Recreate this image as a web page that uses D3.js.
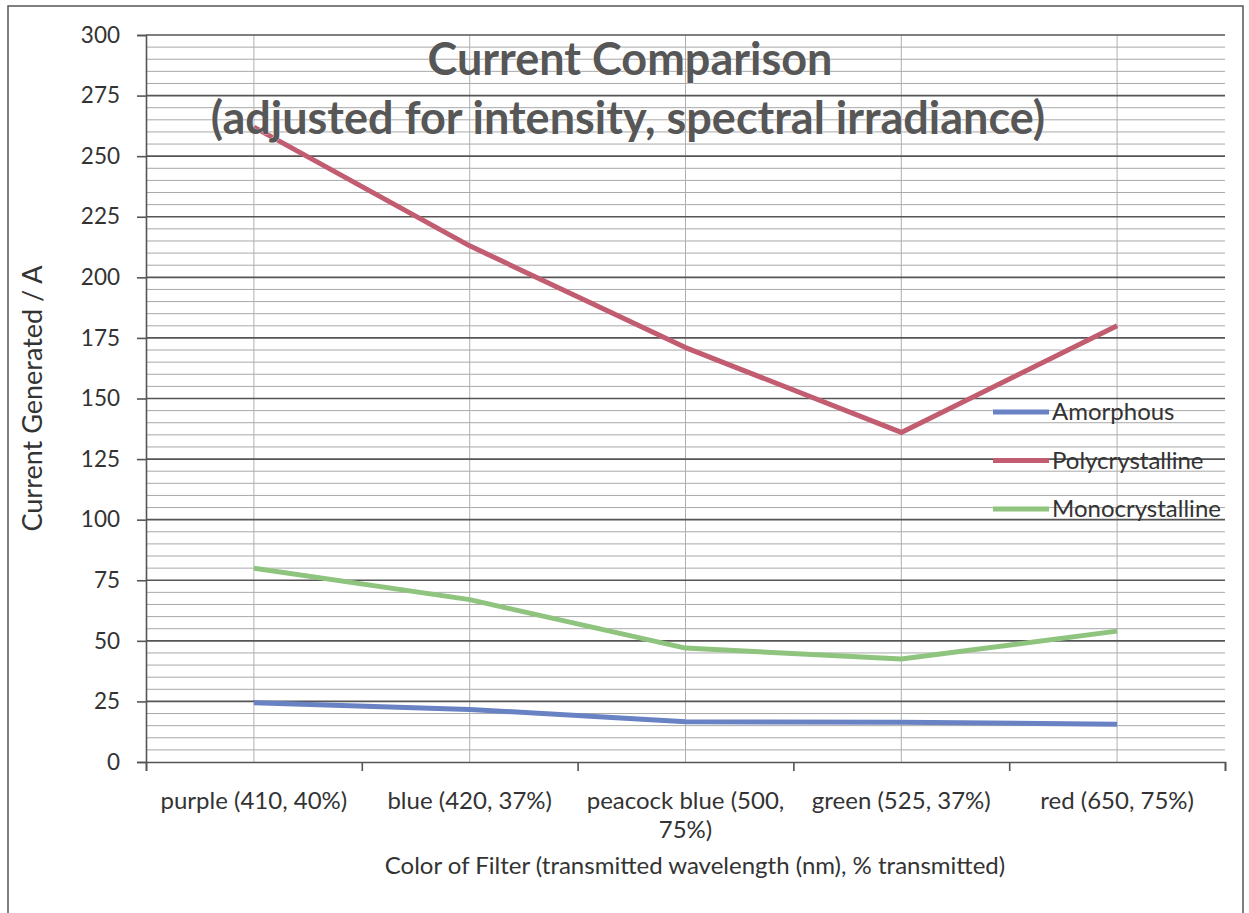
<!DOCTYPE html>
<html>
<head>
<meta charset="utf-8">
<script src="https://cdn.jsdelivr.net/npm/d3@7"></script>
<style>
  body { margin: 0; background: #fff; }
  svg { display: block; font-family: Lato, "Open Sans", sans-serif; }
</style>
</head>
<body>
<script>
// Data
const categories = ['purple (410, 40%)', 'blue (420, 37%)', 'peacock blue (500, 75%)', 'green (525, 37%)', 'red (650, 75%)'];
const amorphous = [24.5, 21.7, 16.6, 16.4, 15.6];
const polycrystalline = [262, 213, 171, 136, 180];
const monocrystalline = [80, 67, 47, 42.5, 54];
const seriesNames = ['Amorphous', 'Polycrystalline', 'Monocrystalline'];
const yTicks = [0, 25, 50, 75, 100, 125, 150, 175, 200, 225, 250, 275, 300];

const W = 1249, H = 913;
const m = { left: 146, right: 1225, top: 35, bottom: 762 };

const svg = d3.select('body')
    .append('svg')
    .attr('width', W)
    .attr('height', H);

// chart frame
svg.append('rect')
    .attr('x', 8).attr('y', 6)
    .attr('width', 1235).attr('height', 930)
    .attr('fill', '#fff')
    .attr('stroke', '#555')
    .attr('stroke-width', 1.5);

const y = d3.scaleLinear().domain([0, 300]).range([m.bottom, m.top]);
const xi = d3.scaleLinear().domain([0, categories.length]).range([m.left, m.right]);
const xc = i => xi(i + 0.5);

// minor gridlines every 5
svg.append('g')
    .selectAll('line')
    .data(d3.range(5, 300, 5).filter(v => v % 25 !== 0))
    .enter()
    .append('line')
    .attr('x1', m.left).attr('x2', m.right)
    .attr('y1', d => y(d)).attr('y2', d => y(d))
    .attr('stroke', '#a8a8a8')
    .attr('stroke-width', 1);

// vertical gridlines at categories
svg.append('g')
    .selectAll('line')
    .data(categories)
    .enter()
    .append('line')
    .attr('x1', (d, i) => xc(i)).attr('x2', (d, i) => xc(i))
    .attr('y1', m.top).attr('y2', m.bottom)
    .attr('stroke', '#b0b0b0')
    .attr('stroke-width', 1);

// major gridlines
svg.append('g')
    .selectAll('line')
    .data(yTicks.slice(1))
    .enter()
    .append('line')
    .attr('x1', m.left).attr('x2', m.right)
    .attr('y1', d => y(d)).attr('y2', d => y(d))
    .attr('stroke', '#555')
    .attr('stroke-width', 1.6);

// y axis
const yAxis = svg.append('g')
    .attr('transform', `translate(${m.left},0)`)
    .call(d3.axisLeft(y).tickValues(yTicks).tickSize(9).tickPadding(17));
yAxis.selectAll('text').attr('font-size', 22.5).attr('fill', '#333').attr('font-family', 'Lato');
yAxis.selectAll('line, path').attr('stroke', '#555').attr('stroke-width', 1.6);

// x axis (tick marks between categories)
const xAxis = svg.append('g')
    .attr('transform', `translate(0,${m.bottom})`)
    .call(d3.axisBottom(xi).tickValues(d3.range(0, categories.length + 1)).tickSize(9).tickFormat(''));
xAxis.selectAll('line, path').attr('stroke', '#555').attr('stroke-width', 1.6);

// category labels with word wrap
const labels = svg.append('g')
    .selectAll('text')
    .data(categories)
    .enter()
    .append('text')
    .attr('x', (d, i) => xc(i))
    .attr('y', 809)
    .attr('text-anchor', 'middle')
    .attr('font-size', 24)
    .attr('fill', '#333');
labels.each(function (d, i) {
    const t = d3.select(this);
    const words = d.split(' ');
    let line = [];
    let tspan = t.append('tspan').attr('x', xc(i)).attr('dy', 0);
    words.forEach(w => {
        line.push(w);
        tspan.text(line.join(' '));
        if (tspan.node().getComputedTextLength() > 212 && line.length > 1) {
            line.pop();
            tspan.text(line.join(' '));
            line = [w];
            tspan = t.append('tspan').attr('x', xc(i)).attr('dy', 29).text(w);
        }
    });
});

// axis titles
svg.append('text')
    .attr('transform', `translate(42,${(m.top + m.bottom) / 2}) rotate(-90)`)
    .attr('text-anchor', 'middle')
    .attr('font-size', 27)
    .attr('fill', '#333')
    .text('Current Generated / A');

svg.append('text')
    .attr('x', 695)
    .attr('y', 874)
    .attr('text-anchor', 'middle')
    .attr('font-size', 24)
    .attr('fill', '#333')
    .text('Color of Filter (transmitted wavelength (nm), % transmitted)');

// series lines
const colors = ['#6882c4', '#c25c70', '#8ec47e'];
const allSeries = [amorphous, polycrystalline, monocrystalline];
const line = d3.line()
    .x((d, i) => xc(i))
    .y(d => y(d));

svg.append('g')
    .selectAll('path')
    .data(allSeries)
    .enter()
    .append('path')
    .attr('d', d => line(d))
    .attr('fill', 'none')
    .attr('stroke', (d, i) => colors[i])
    .attr('stroke-width', 5)
    .attr('stroke-linejoin', 'round');

// title
const title = svg.append('text')
    .attr('text-anchor', 'middle')
    .attr('font-family', 'Lato')
    .attr('font-weight', 'bold')
    .attr('font-size', 45)
    .attr('fill', '#575757')
    .attr('stroke', '#fff')
    .attr('stroke-width', 0.6)
    .attr('paint-order', 'stroke');
title.append('tspan').attr('x', 630).attr('y', 75).text('Current Comparison');
title.append('tspan').attr('x', 628).attr('y', 134).text('(adjusted for intensity, spectral irradiance)');

// legend
const legend = svg.append('g')
    .selectAll('g')
    .data(seriesNames)
    .enter()
    .append('g')
    .attr('transform', (d, i) => `translate(993,${412 + i * 48.5})`);
legend.append('line')
    .attr('x1', 0).attr('x2', 56)
    .attr('stroke', (d, i) => colors[i])
    .attr('stroke-width', 5);
legend.append('text')
    .attr('x', 59)
    .attr('dy', '0.35em')
    .attr('font-size', 24)
    .attr('fill', '#333')
    .text(d => d);
</script>
</body>
</html>
